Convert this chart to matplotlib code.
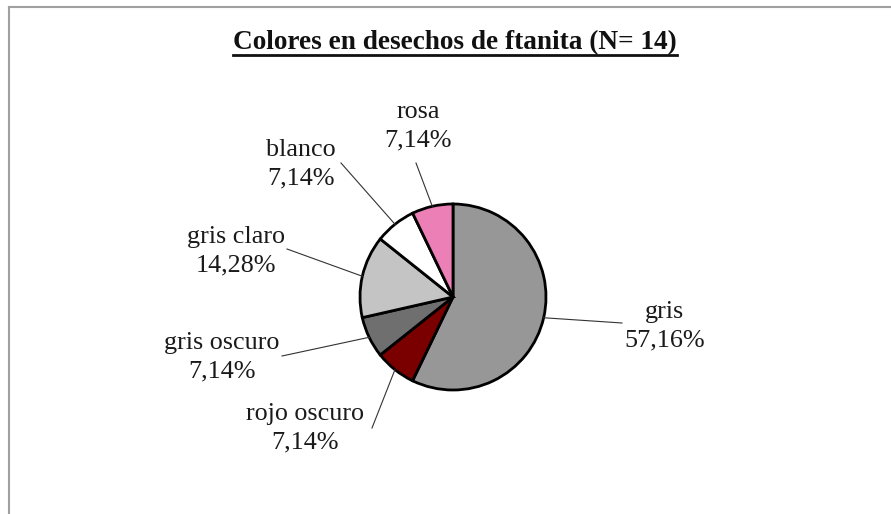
import matplotlib.pyplot as plt
import numpy as np

# data
labels = ["gris", "rojo oscuro", "gris oscuro", "gris claro", "blanco", "rosa"]
values = [57.16, 7.14, 7.14, 14.28, 7.14, 7.14]
pct_text = ["57,16%", "7,14%", "7,14%", "14,28%", "7,14%", "7,14%"]
colors = ["#979797", "#7a0000", "#6f6f6f", "#c4c4c4", "#ffffff", "#ec80b6"]
title = "Colores en desechos de ftanita (N= 14)"

# layout in pixels (image 891x514, y down)
W, H = 891, 514
cx, cy, R = 453, 297, 93
text_px = [(665, 326), (305, 428), (222, 357), (236, 251), (301, 164), (418, 126)]
line_end_px = [(622, 323), (372, 428), (282, 356), (287, 249), (341, 163), (416, 163)]


def px(p):
    return ((p[0] - cx) / R, (cy - p[1]) / R)


plt.rcParams['font.family'] = ['Liberation Serif', 'DejaVu Serif']

fig = plt.figure(figsize=(W / 100, H / 100), dpi=100)
ax = fig.add_axes([0, 0, 1, 1])

wedges, _ = ax.pie(values, colors=colors, startangle=90, counterclock=False,
                   radius=1, center=(0, 0), frame=True,
                   wedgeprops=dict(edgecolor="black", linewidth=2.0))
ax.set_xlim(-cx / R, (W - cx) / R)
ax.set_ylim((cy - H) / R, cy / R)
ax.set_aspect("auto")
ax.axis("off")

for w, lab, pt, tp, lp in zip(wedges, labels, pct_text, text_px, line_end_px):
    mid = np.deg2rad((w.theta1 + w.theta2) / 2)
    x0, y0 = np.cos(mid), np.sin(mid)
    x1, y1 = px(lp)
    ax.plot([x0, x1], [y0, y1], color="#333333", lw=0.8)
    tx, ty = px(tp)
    ax.text(tx, ty, lab + "\n" + pt, ha="center", va="center",
            fontsize=18.8, linespacing=1.38, color="#1a1a1a")

# title with underline
t = fig.text(455 / W, 1 - 43 / H, title, ha="center", va="center",
             fontsize=19.6, fontweight="bold", color="#111111")
fig.canvas.draw()
bb = t.get_window_extent()
uy = bb.y0 + 1
fig.add_artist(plt.Line2D([bb.x0 / W, bb.x1 / W], [uy / H, uy / H],
                          color="#111111", lw=2.0, transform=fig.transFigure))

# chart frame (top and left edges visible)
fig.add_artist(plt.Line2D([9 / W, 1], [1 - 7 / H, 1 - 7 / H], color="#a0a0a0", lw=1.5))
fig.add_artist(plt.Line2D([9 / W, 9 / W], [0, 1 - 7 / H], color="#a0a0a0", lw=1.5))

fig.savefig("out.png", dpi=100)
